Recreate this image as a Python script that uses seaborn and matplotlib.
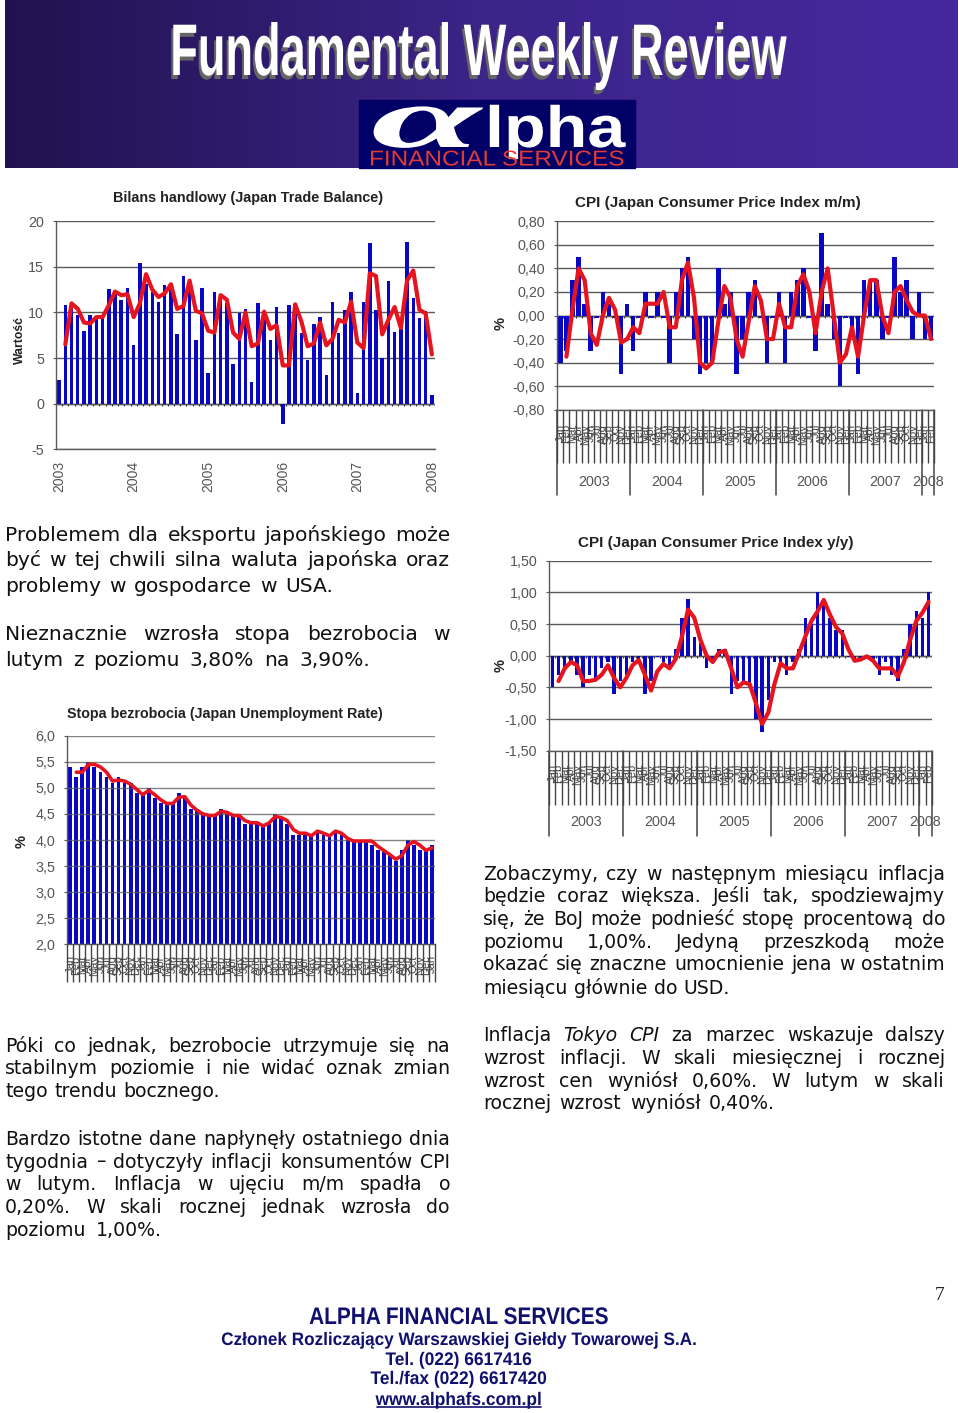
import numpy as np
import pandas as pd
import seaborn as sns
import matplotlib
matplotlib.use("Agg")
import matplotlib.pyplot as plt
import matplotlib.patheffects as pe
from matplotlib.colors import LinearSegmentedColormap
from matplotlib.patches import Rectangle
from matplotlib.transforms import Affine2D

MONTHS = ["Jan","Feb","Mar","Apr","May","Jun","Jul","Aug","Sep","Oct","Nov","Dec"]
YEARS = ["2003","2004","2005","2006","2007","2008"]

trade_bars = [2.6,10.8,11.2,9.7,8.0,9.7,9.5,9.5,12.6,12.0,11.4,12.7,
              6.4,15.4,13.1,12.2,11.1,13.0,12.8,7.6,14.0,12.5,7.0,12.7,
              3.4,12.3,11.9,11.0,4.4,9.9,10.4,2.4,11.0,10.0,7.0,10.6,
              -2.2,10.8,10.9,7.7,4.8,8.7,9.5,3.2,11.1,7.7,10.3,12.2,
              1.2,11.1,17.6,10.3,5.0,13.5,7.9,8.2,17.7,11.6,9.4,10.2,0.9]
trade_line = [6.5,11,10.4,8.9,8.8,9.5,9.5,10.8,12.3,11.9,12,9.5,11,14.2,12.5,
              11.7,12.1,13.1,10.4,10.7,13.5,10.2,9.9,8,7.8,11.9,11.4,7.8,7.1,10,
              6.3,6.6,10.1,8.2,8.6,4.2,4.2,10.9,9,6.3,6.6,8.9,6.4,7.1,9.2,
              8.9,11.2,6.7,6.1,14.3,14,7.6,9.2,10.6,8.3,13.5,14.6,10.3,9.9,5.4]
trade_ticks = [-5,0,5,10,15,20]
trade_ticklabels = ["-5","0","5","10","15","20"]

mm_bars = [-0.4,-0.3,0.3,0.5,0.1,-0.3,-0.02,0.2,0.1,-0.02,-0.5,0.1,-0.3,-0.02,0.2,
           -0.02,0.2,-0.02,-0.4,0.2,0.4,0.5,-0.2,-0.5,-0.4,-0.4,0.4,0.1,0.2,-0.5,
           -0.2,0.2,0.3,-0.02,-0.4,-0.02,0.2,-0.4,0.2,0.3,0.4,-0.02,-0.3,0.7,0.1,
           -0.2,-0.6,-0.02,-0.1,-0.5,0.3,0.3,0.3,-0.2,-0.02,0.5,0.2,0.3,-0.2,0.2,-0.2,-0.2]
mm_line = [-.35,.05,.4,.3,-.15,-.25,0,.15,.05,-.23,-.2,-.1,-.15,.1,.1,.1,.2,-.1,-.1,.3,
           .45,.15,-.4,-.45,-.4,-.05,.25,.15,-.2,-.35,-.05,.25,.13,-.2,-.2,.1,-.1,-.1,.25,.35,
           .2,-.15,.2,.4,0,-.4,-.33,-.1,-.35,0,.3,.3,0,-.15,.2,.25,.13,.03,0,0,-.2]
mm_ticks = [-0.8,-0.6,-0.4,-0.2,0,0.2,0.4,0.6,0.8]
mm_ticklabels = ["-0,80","-0,60","-0,40","-0,20","0,00","0,20","0,40","0,60","0,80"]

yy_bars = [-0.5,-0.3,-0.2,-0.1,-0.3,-0.5,-0.3,-0.4,-0.2,-0.1,-0.6,-0.4,
           -0.3,-0.1,-0.1,-0.6,-0.4,-0.02,-0.1,-0.2,0.1,0.6,0.9,0.3,
           0.2,-0.2,-0.1,0.1,0.1,-0.6,-0.4,-0.4,-0.5,-1.0,-1.2,-0.7,
           -0.1,-0.1,-0.3,-0.1,0.1,0.6,0.5,1.0,0.8,0.6,0.4,0.4,
           -0.02,-0.1,-0.05,-0.02,-0.05,-0.3,-0.1,-0.3,-0.4,0.1,0.5,0.7,0.6,1.0]
yy_line = [-.4,-.2,-.1,-.15,-.4,-.4,-.38,-.3,-.15,-.35,-.5,-.35,-.15,-.07,-.3,
           -.55,-.25,-.13,-.2,-.05,.3,.73,.6,.25,0,-.1,.05,.08,-.2,-.5,
           -.42,-.45,-.75,-1.08,-.9,-.45,-.12,-.2,-.2,.05,.3,.55,.7,.88,.65,
           .45,.35,.1,-.08,-.06,-.01,-.08,-.2,-.2,-.2,-.33,-.1,.25,.55,.68,.85]
yy_ticks = [-1.5,-1,-0.5,0,0.5,1,1.5]
yy_ticklabels = ["-1,50","-1,00","-0,50","0,00","0,50","1,00","1,50"]

un_bars = [5.4,5.2,5.4,5.5,5.4,5.3,5.2,5.1,5.2,5.1,5.1,4.9,
           4.9,5.0,4.8,4.7,4.7,4.7,4.9,4.8,4.6,4.6,4.5,4.5,
           4.5,4.6,4.5,4.5,4.5,4.3,4.3,4.3,4.3,4.3,4.5,4.4,
           4.3,4.1,4.1,4.1,4.1,4.2,4.1,4.1,4.2,4.1,4.0,4.0,
           4.0,4.0,3.9,3.8,3.8,3.7,3.6,3.8,4.0,3.9,3.8,3.8,3.9]
un_line = [5.3,5.3,5.45,5.45,5.4,5.3,5.13,5.15,5.13,5.07,4.97,4.87,4.95,4.87,4.77,
           4.7,4.7,4.82,4.83,4.67,4.57,4.5,4.47,4.47,4.55,4.53,4.47,4.47,4.37,4.33,
           4.33,4.27,4.33,4.45,4.43,4.37,4.2,4.13,4.13,4.08,4.17,4.13,4.08,4.17,4.13,
           4.03,3.98,3.98,3.98,3.98,3.88,3.8,3.72,3.63,3.7,3.9,3.97,3.9,3.8,3.85]
un_ticks = [2,2.5,3,3.5,4,4.5,5,5.5,6]
un_ticklabels = ["2,0","2,5","3,0","3,5","4,0","4,5","5,0","5,5","6,0"]

title_main = "Fundamental Weekly Review"
title_trade = "Bilans handlowy (Japan Trade Balance)"
title_mm = "CPI (Japan Consumer Price Index m/m)"
title_yy = "CPI (Japan Consumer Price Index y/y)"
title_un = "Stopa bezrobocia (Japan Unemployment Rate)"

# (text, baseline y, left x, right x, size)
BIG, SMALL = 14.6, 13.6
body = [
    ("Problemem dla eksportu japońskiego może", 541, 5, 450, BIG),
    ("być w tej chwili silna waluta japońska oraz", 566.5, 5, 450, BIG),
    ("problemy w gospodarce w USA.", 592, 5, 333, BIG),
    ("Nieznacznie wzrosła stopa bezrobocia w", 640, 5, 450, BIG),
    ("lutym z poziomu 3,80% na 3,90%.", 666, 5, 370, BIG),
    ("Póki co jednak, bezrobocie utrzymuje się na", 1052, 5, 450, SMALL),
    ("stabilnym poziomie i nie widać oznak zmian", 1074.5, 5, 450, SMALL),
    ("tego trendu bocznego.", 1097, 5, 220, SMALL),
    ("Bardzo istotne dane napłynęły ostatniego dnia", 1145, 5, 450, SMALL),
    ("tygodnia – dotyczyły inflacji konsumentów CPI", 1167.5, 5, 450, SMALL),
    ("w lutym. Inflacja w ujęciu m/m spadła o", 1190, 5, 450, SMALL),
    ("0,20%. W skali rocznej jednak wzrosła do", 1213, 5, 450, SMALL),
    ("poziomu 1,00%.", 1235.5, 5, 162, SMALL),
    ("Zobaczymy, czy w następnym miesiącu inflacja", 880, 483, 945, SMALL),
    ("będzie coraz większa. Jeśli tak, spodziewajmy", 902, 483, 945, SMALL),
    ("się, że BoJ może podnieść stopę procentową do", 925, 483, 945, SMALL),
    ("poziomu 1,00%. Jedyną przeszkodą może", 948, 483, 945, SMALL),
    ("okazać się znaczne umocnienie jena w ostatnim", 970, 483, 945, SMALL),
    ("miesiącu głównie do USD.", 994, 483, 730, SMALL),
    ("Inflacja Tokyo CPI za marzec wskazuje dalszy", 1041, 483, 945, SMALL),
    ("wzrost inflacji. W skali miesięcznej i rocznej", 1064, 483, 945, SMALL),
    ("wzrost cen wyniósł 0,60%. W lutym w skali", 1087, 483, 945, SMALL),
    ("rocznej wzrost wyniósł 0,40%.", 1109, 483, 775, SMALL),
]
footer = [
    ("ALPHA FINANCIAL SERVICES", 1324, 15.0, 1.15),
    ("Członek Rozliczający Warszawskiej Giełdy Towarowej S.A.", 1345, 12.35, 1.05),
    ("Tel. (022) 6617416", 1365, 12.5, 1.05),
    ("Tel./fax (022) 6617420", 1384, 12.5, 1.05),
    ("www.alphafs.com.pl", 1405, 12.5, 1.05),
]


class Stretch(pe.AbstractPathEffect):
    """Scale a real text's glyph outlines about its baseline origin, with optional drop shadow."""
    def __init__(self, sx=1.0, sy=1.0, shadow=None, shadow_off=(0, 0)):
        super().__init__()
        self.sx, self.sy, self.shadow, self.shadow_off = sx, sy, shadow, shadow_off

    def draw_path(self, renderer, gc, tpath, affine, rgbFace=None):
        ox, oy = affine.transform_point((0, 0))
        t = affine + Affine2D().translate(-ox, -oy).scale(self.sx, self.sy).translate(ox, oy)
        if self.shadow is not None:
            renderer.draw_path(gc, tpath, t + Affine2D().translate(*self.shadow_off),
                               matplotlib.colors.to_rgba(self.shadow))
        renderer.draw_path(gc, tpath, t, rgbFace)


sns.set_theme(style="white")
plt.rcParams["font.family"] = ["Liberation Sans", "DejaVu Sans"]
W, H = 960, 1413
fig = plt.figure(figsize=(9.6, 14.13), dpi=100, facecolor="white")

page = fig.add_axes([0, 0, 1, 1], zorder=0)
page.set_xlim(0, W); page.set_ylim(H, 0); page.axis("off")

# header band
cmap = LinearSegmentedColormap.from_list("hdr", ["#21124f", "#3c2488", "#46289e"])
page.imshow(np.linspace(0, 1, 256)[None, :], cmap=cmap, aspect="auto",
            extent=(5, 958, 168, 0), zorder=0)
page.set_xlim(0, W); page.set_ylim(H, 0)
page.text(478, 75, title_main, color="white", fontsize=32.5, fontweight="bold", ha="center", va="baseline",
          path_effects=[Stretch(sy=1.62, shadow="#666666", shadow_off=(-2, -4))])
page.add_patch(Rectangle((359, 100), 276, 68, color="#000066", zorder=1))
page.text(371, 147, "α", color="white", fontsize=62, fontweight="bold", family=["Liberation Serif"],
          style="italic", ha="left", va="baseline", zorder=2, path_effects=[Stretch(sx=2.3)])
page.text(485, 147, "lpha", color="white", fontsize=42, fontweight="bold", ha="left", va="baseline",
          zorder=2, path_effects=[Stretch(sx=1.17)])
page.text(369, 165.5, "FINANCIAL SERVICES", color="#e23b35", fontsize=15.5, ha="left", va="baseline", zorder=3,
          path_effects=[Stretch(sx=1.13)])

# body text, fully justified word by word
renderer = fig.canvas.get_renderer()
DARK = "#111111"
def draw_line(txt, y, x0, x1, size):
    words = txt.split(" ")
    italic = {"Tokyo", "CPI"} if txt.startswith("Inflacja Tokyo") else set()
    arts = [page.text(0, y, w, fontsize=size, color=DARK, family=["DejaVu Sans"],
                      style="italic" if w in italic else "normal", va="baseline", ha="left")
            for w in words]
    widths = [a.get_window_extent(renderer).width for a in arts]
    gap = (x1 - x0 - sum(widths)) / max(len(words) - 1, 1)
    x = x0
    for a, w in zip(arts, widths):
        a.set_x(x)
        x += w + gap
for line in body:
    draw_line(*line)

NAVY = "#10106e"
for txt, y, size, sy in footer:
    page.text(459, y, txt, color=NAVY, fontsize=size, fontweight="bold", ha="center", va="baseline",
              path_effects=[Stretch(sy=sy)])
page.plot([377, 541], [1407, 1407], color=NAVY, lw=1.2)
page.text(940, 1300, "7", fontsize=14, family=["Liberation Serif"], color="#222222", ha="center", va="baseline")

GRID = "#5a5a5a"
TICK = "#555555"
BAR = "#0808c4"
RED = "#e5141f"

def make_ax(l, r, t, b):
    ax = fig.add_axes([l / W, 1 - b / H, (r - l) / W, (b - t) / H], zorder=2)
    ax.patch.set_alpha(0)
    return ax

def draw(ax, bars, line, width, ticks, ticklabels, lw=3.0):
    n = len(bars)
    df = pd.DataFrame({"i": np.arange(n), "v": bars})
    sns.barplot(data=df, x="i", y="v", color=BAR, saturation=1, width=width, ax=ax, zorder=2,
                edgecolor="none", linewidth=0)
    dl = pd.DataFrame({"i": np.arange(1, n), "v": line})
    sns.lineplot(data=dl, x="i", y="v", color=RED, lw=lw, ax=ax, errorbar=None, zorder=3)
    ax.set_xlim(-0.5, n - 0.5)
    ax.set_ylim(min(ticks), max(ticks))
    ax.set_yticks(ticks, ticklabels)
    ax.set_xlabel(""); ax.set_ylabel("")
    ax.grid(axis="y", color=GRID, lw=1)
    ax.set_axisbelow(True)
    for s in ["top", "right"]:
        ax.spines[s].set_visible(False)
    for s in ["left", "bottom"]:
        ax.spines[s].set_color(GRID); ax.spines[s].set_linewidth(1)
    ax.tick_params(axis="y", length=2.2, width=0.8, color=GRID, labelcolor=TICK, labelsize=10.3, pad=6.5, left=True)
    return n

def month_axis(ax, n, tick_px, label_pad_px, size=8):
    labels = [MONTHS[i % 12] for i in range(n)]
    ax.set_xticks(np.arange(n + 1) - 0.5, [""] * (n + 1))
    ax.set_xticks(np.arange(n), labels, minor=True)
    ax.tick_params(axis="x", which="major", length=tick_px * 0.72, width=1, color="#444444", bottom=True)
    ax.tick_params(axis="x", which="minor", length=0, pad=label_pad_px * 0.72, labelsize=size,
                   labelcolor="#444444", labelrotation=90)
    for t in ax.xaxis.get_minorticklabels():
        t.set_verticalalignment("top")

def year_row(ax, n, sep_px, label_px, axes_h_px):
    tr = ax.get_xaxis_transform()
    edges = list(range(0, n, 12)) + [n]
    for e in edges:
        ax.plot([e - 0.5, e - 0.5], [0, -sep_px / axes_h_px], transform=tr, color="#444444", lw=1.1, clip_on=False)
    for k, y in enumerate(YEARS):
        ax.text((edges[k] + edges[k + 1]) / 2 - 0.5, -label_px / axes_h_px, y, transform=tr,
                ha="center", va="center", color=TICK, fontsize=10.3, clip_on=False)

def zero_ticks(ax, n, depth):
    ax.axhline(0, color=GRID, lw=1, zorder=1)
    ax.vlines(np.arange(n + 1) - 0.5, -depth, 0, color="#333333", lw=0.8, zorder=1)

# Chart 1: trade balance
ax1 = make_ax(56, 435, 221.3, 449.3)
n1 = draw(ax1, trade_bars, trade_line, 0.56, trade_ticks, trade_ticklabels)
zero_ticks(ax1, n1, 0.25)
ax1.set_xticks(np.arange(0, n1, 12), YEARS)
ax1.tick_params(axis="x", length=0, pad=8, labelsize=10, labelcolor=TICK, labelrotation=90)
page.text(248, 202, title_trade, fontsize=10.4, fontweight="bold", color="#222222", ha="center", va="baseline")
page.text(20, 340, "Wartość", rotation=90, fontsize=8.8, fontweight="bold", color="#222222", ha="center", va="center")

# Chart 2: CPI m/m
ax2 = make_ax(557.3, 934, 221.3, 409.7)
n2 = draw(ax2, mm_bars, mm_line, 0.74, mm_ticks, mm_ticklabels)
zero_ticks(ax2, n2, 0.02)
month_axis(ax2, n2, 53, 14)
year_row(ax2, n2, 85, 72, 188.4)
page.text(717.5, 207, title_mm, fontsize=11, fontweight="bold", color="#222222", ha="center", va="baseline")
page.text(501, 323, "%", rotation=90, fontsize=10.5, fontweight="bold", color="#222222", ha="center", va="center")

# Chart 3: CPI y/y
ax3 = make_ax(549.3, 931.7, 560.7, 750.7)
n3 = draw(ax3, yy_bars, yy_line, 0.56, yy_ticks, yy_ticklabels)
zero_ticks(ax3, n3, 0.03)
month_axis(ax3, n3, 54, 13)
year_row(ax3, n3, 85, 71, 190)
page.text(716, 547, title_yy, fontsize=11, fontweight="bold", color="#222222", ha="center", va="baseline")
page.text(501, 665, "%", rotation=90, fontsize=10.5, fontweight="bold", color="#222222", ha="center", va="center")

# Chart 4: unemployment
ax4 = make_ax(67.3, 435, 735.7, 944.3)
n4 = draw(ax4, un_bars, un_line, 0.64, un_ticks, un_ticklabels, lw=2.6)
ax4.set_axisbelow(False)
ax4.grid(axis="y", color=GRID, lw=1, alpha=0.75)
month_axis(ax4, n4, 38, 11)
page.text(225, 718, title_un, fontsize=10.25, fontweight="bold", color="#222222", ha="center", va="baseline")
page.text(22, 842, "%", rotation=90, fontsize=10.5, fontweight="bold", color="#222222", ha="center", va="center")

fig.savefig("out.png", dpi=100)
